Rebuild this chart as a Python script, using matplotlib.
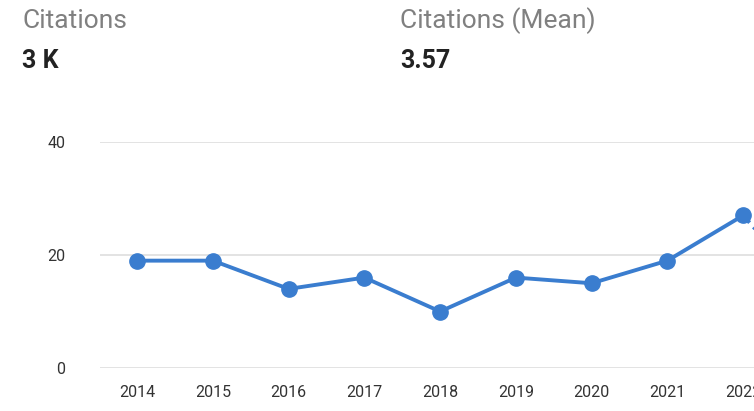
import matplotlib
matplotlib.use("Agg")
import matplotlib.pyplot as plt

years = [2014, 2015, 2016, 2017, 2018, 2019, 2020, 2021, 2022, 2023]
citations = [19, 19, 14, 16, 10, 16, 15, 19, 27, 12]
yticks = [0, 20, 40]

plt.rcParams['font.family'] = ['Roboto', 'DejaVu Sans']

fig = plt.figure(figsize=(7.54, 4.11), dpi=100)
W, H = 754, 411
# axes runs past the right edge, like the cropped screenshot
ax = fig.add_axes([100 / W, 43 / H, 756 / W, 226 / H])
ax.set_xlim(2013.51, 2023.49)
ax.set_ylim(0, 40)

blue = '#3a7dcf'
# full years solid, current (partial) year dashed
ax.plot(years[:-1], citations[:-1], '-o', color=blue, lw=2.8, ms=11, zorder=3)
ax.plot(years[-2:], citations[-2:], '--', color=blue, lw=2.8,
        dashes=(2.5, 1.5), zorder=2)

ax.set_yticks(yticks)
ax.set_xticks(years)
ax.grid(axis='y', color='#dedede', lw=1.2)
ax.set_axisbelow(True)
for s in ax.spines.values():
    s.set_visible(False)
ax.tick_params(length=0, labelsize=11.5, labelcolor='#333333')
ax.tick_params(axis='y', pad=25)
ax.tick_params(axis='x', pad=12)

fig.text(22 / W, 1 - 21 / H, 'Citations', fontsize=19, color='#808080', va='center')
fig.text(22 / W, 1 - 61 / H, '3 K', fontsize=18, color='#222222', va='center', fontweight='bold')
fig.text(400 / W, 1 - 21 / H, 'Citations (Mean)', fontsize=19, color='#808080', va='center')
fig.text(400 / W, 1 - 61 / H, '3.57', fontsize=18, color='#222222', va='center', fontweight='bold')

fig.savefig('out.png', dpi=100)
